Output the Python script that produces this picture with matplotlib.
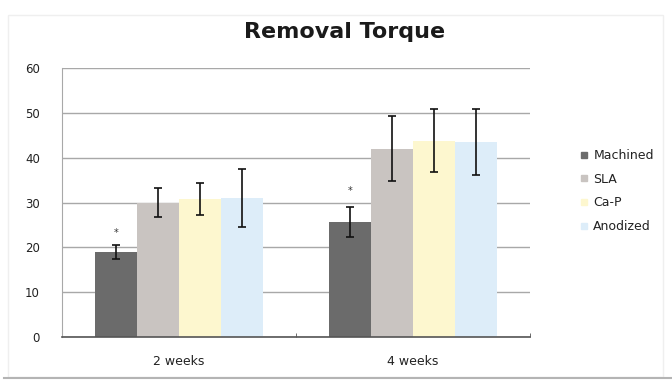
import matplotlib
matplotlib.use("Agg")
import matplotlib.pyplot as plt
import numpy as np
from matplotlib.patches import Rectangle
from matplotlib.lines import Line2D

categories = ["2 weeks", "4 weeks"]
series = ["Machined", "SLA", "Ca-P", "Anodized"]
machined = [19.0, 25.6]
sla = [30.0, 42.0]
cap = [30.8, 43.8]
anodized = [31.0, 43.5]
machined_err = [1.5, 3.3]
sla_err = [3.3, 7.3]
cap_err = [3.5, 7.0]
anodized_err = [6.5, 7.3]
star_y = [23.2, 32.6]
yticks = [0, 10, 20, 30, 40, 50, 60]

values = [machined, sla, cap, anodized]
errors = [machined_err, sla_err, cap_err, anodized_err]
colors = ["#6b6b6b", "#c9c4c1", "#fdf7cf", "#ddedf9"]

fig = plt.figure(figsize=(6.72, 3.8), dpi=100)
fig.patches.append(Rectangle((8/672, 3/380), 655/672, 362/380, transform=fig.transFigure,
                             fill=False, edgecolor="#efefef", linewidth=1.0))
fig.add_artist(Line2D([4/672, 1.0], [1-378/380, 1-378/380], transform=fig.transFigure,
                      color="#b4b4b4", linewidth=1.5))
ax = fig.add_axes([62/672, 1-337/380, 468/672, 269/380])

x = np.arange(len(categories))
w = 0.1785
for i, (vals, errs, c) in enumerate(zip(values, errors, colors)):
    ax.bar(x + (i - 1.5) * w, vals, width=w, color=c, edgecolor="none", zorder=2, label=series[i])
    ax.errorbar(x + (i - 1.5) * w, vals, yerr=errs, fmt="none", ecolor="#111111",
                elinewidth=1.2, capsize=3, capthick=1.2, zorder=3)

for j in range(len(categories)):
    ax.text(x[j] - 1.5 * w, star_y[j], "*", ha="center", va="center", fontsize=7, color="#333333")

ax.set_xlim(-0.5, 1.5)
ax.set_ylim(0, 60)
ax.set_yticks(yticks)
ax.set_yticklabels([str(t) for t in yticks], fontsize=8.5)
ax.set_xticks(x)
ax.set_xticklabels(categories, fontsize=9)
ax.tick_params(axis="x", length=0, pad=13, colors="#222222")
ax.tick_params(axis="y", length=0, pad=16, colors="#222222")
ax.set_xticks([0.5, 1.5], minor=True)
ax.tick_params(axis="x", which="minor", direction="in", length=3, color="#555555")
ax.yaxis.grid(True, color="#a8a8a8", linewidth=1.0, zorder=0)
ax.set_axisbelow(True)
for s in ["top", "right"]:
    ax.spines[s].set_visible(False)
ax.spines["left"].set_color("#a8a8a8")
ax.spines["bottom"].set_color("#555555")
ax.spines["bottom"].set_linewidth(1.2)

fig.text(345/672, 1-32/380, "Removal Torque", ha="center", va="center",
         fontsize=16, fontweight="bold", color="#1a1a1a")

handles = [Line2D([], [], marker="s", linestyle="none", markersize=4,
                  markerfacecolor=c, markeredgecolor=c) for c in colors]
fig.legend(handles, series, loc="center left", bbox_to_anchor=(574/672, 1-191/380),
           frameon=False, fontsize=9, handlelength=0.6, handletextpad=0.45,
           labelspacing=0.85, borderpad=0, labelcolor="#222222")

fig.savefig("out.png", dpi=100, facecolor="white")
